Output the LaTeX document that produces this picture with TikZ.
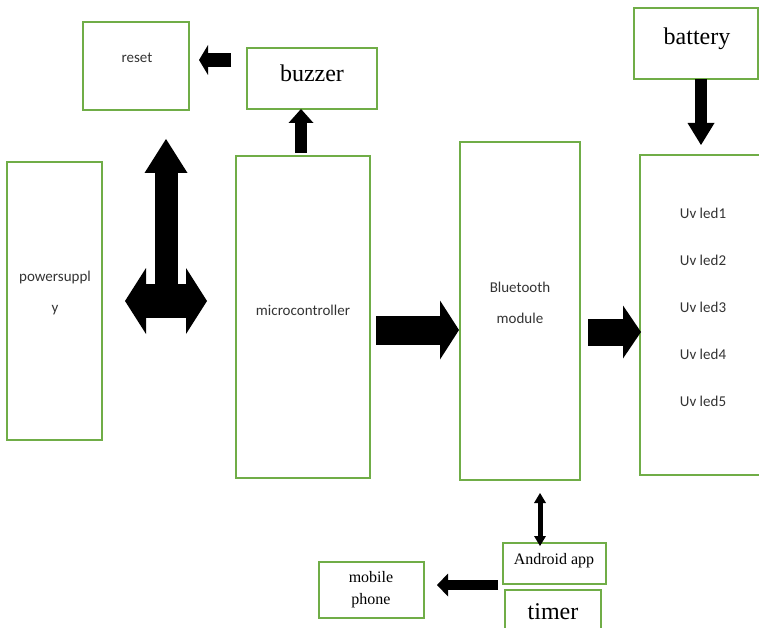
\documentclass[tikz,border=0pt]{standalone}
\usepackage{fontspec}
\setmainfont{Liberation Serif}
\newfontfamily\calfont{Carlito}
\usetikzlibrary{arrows.meta,calc}
\definecolor{boxgreen}{RGB}{112,173,71}
\begin{document}
\begin{tikzpicture}[x=1pt,y=-1pt,
  box/.style={draw=boxgreen, line width=1.5pt, inner sep=0pt, outer sep=0pt},
  sans/.style={font=\calfont\fontsize{15}{#1}\selectfont, text=black!80, align=center, inner sep=0pt},
  serif/.style={font=\fontsize{#1}{#1}\selectfont, align=center, inner sep=0pt},
  blk/.style n args={3}{line width=#1, -{Triangle[width=#2, length=#3, line width=0pt]}},
  dblk/.style n args={3}{line width=#1, {Triangle[width=#2, length=#3, line width=0pt]}-{Triangle[width=#2, length=#3, line width=0pt]}}]
\useasboundingbox (0,0) rectangle (759,628);
\clip (0,0) rectangle (759,628);

% boxes
\node[box, minimum width=106pt, minimum height=88pt]  (reset)  at (136,66)    {};
\node[box, minimum width=130pt, minimum height=61pt]  (buzzer) at (312,78.5)  {};
\node[box, minimum width=95pt,  minimum height=278pt] (power)  at (54.5,301)  {};
\node[box, minimum width=134pt, minimum height=322pt] (micro)  at (303,317)   {};
\node[box, minimum width=120pt, minimum height=338pt] (bt)     at (520,311)   {};
\node[box, minimum width=150pt, minimum height=320pt] (led)    at (715,315)   {};
\node[box, minimum width=124pt, minimum height=71pt]  (batt)   at (696,43.5)  {};
\node[box, minimum width=103pt, minimum height=41pt]  (android) at (554.5,563.5) {};
\node[box, minimum width=96pt,  minimum height=50pt]  (timer)  at (553,615)   {};
\node[box, minimum width=105pt, minimum height=56pt]  (mobile) at (371.5,590) {};

% texts
\node[sans=17] (treset) at (137,57.5) {reset};
\node[serif=24] (tbuzzer) at (312,73) {buzzer};
\node[sans=31] (tpower) at (55,293) {powersuppl\\y};
\node[sans=17] (tmicro) at (303,310.5) {microcontroller};
\node[sans=31] (tbt) at (520,303) {Bluetooth\\module};
\node[sans=47] (tled) at (703,307.5) {Uv led1\\Uv led2\\Uv led3\\Uv led4\\Uv led5};
\node[serif=24] (tbatt) at (697,38.5) {battery};
\node[serif=16] (tandroid) at (554,560.5) {Android app};
\node[serif=24] (ttimer) at (553,611.5) {timer};
\node[font=\fontsize{16}{22}\selectfont, align=center, inner sep=0pt] (tmobile) at (371,589.5) {mobile\\phone};

% block arrows
\draw[blk={14pt}{30pt}{9pt}] ($(buzzer.west)+(-16,-18.5)$) -- ($(reset.east)+(10,-6)$);
\draw[blk={12pt}{25pt}{14pt}] ($(micro.north)+(-2,-3)$) -- ($(buzzer.south)+(-11,0)$);
\draw[blk={29pt}{59pt}{19pt}] ($(micro.east)+(6,13)$) -- ($(bt.west)+(-1,19)$);
\draw[blk={27pt}{53pt}{18pt}] ($(bt.east)+(8,21)$) -- ($(led.west)+(1,17)$);
\draw[blk={12pt}{27pt}{22pt}] ($(batt.south)+(5,0)$) -- ($(led.north)+(-14,-10)$);
\draw[dblk={5pt}{12pt}{10pt}] ($(bt.south)+(20,13)$) -- ($(android.north)+(-14.5,3)$);
\draw[blk={10pt}{23pt}{11pt}] ($(android.west)+(-5,21.5)$) -- ($(mobile.east)+(13,-5)$);

% T-shaped arrow between power supply, microcontroller and reset
\coordinate (tl) at ($(power.east)+(23,0)$);
\coordinate (tr) at ($(micro.west)+(-29,-16)$);
\coordinate (tc) at ($(power.east)+(64,0)$);
\coordinate (tu) at ($(reset.south)+(30,29)$);
\draw[dblk={34pt}{66pt}{21pt}] (tl) -- (tl -| tr);
\draw[blk={23pt}{43pt}{34pt}] (tc) -- (tc |- tu);
\end{tikzpicture}
\end{document}
